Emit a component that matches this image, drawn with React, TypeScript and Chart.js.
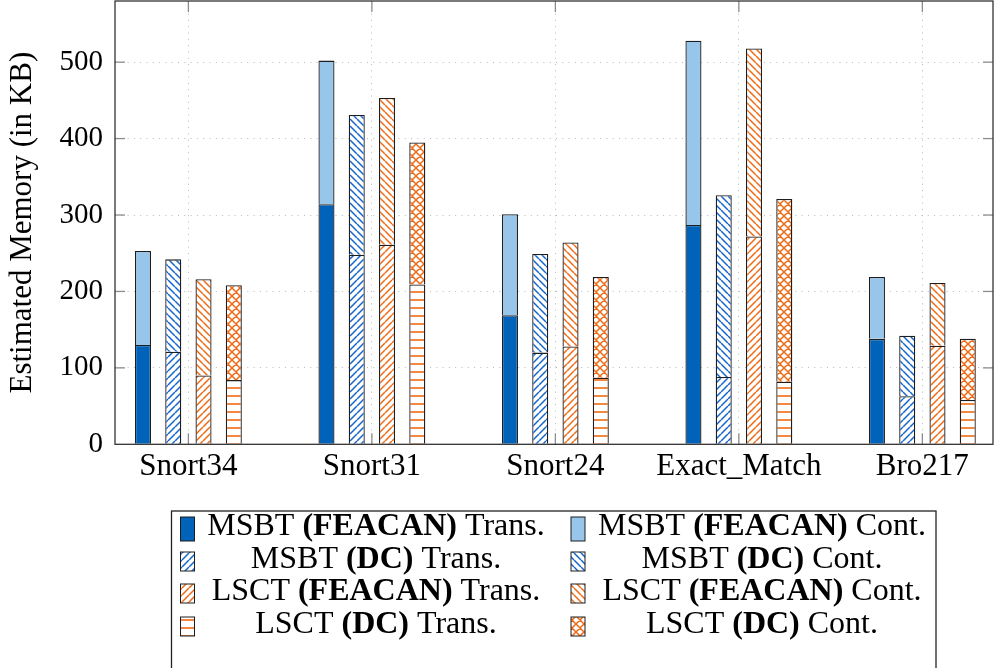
import React, { useEffect, useRef } from 'react';
import { Chart, registerables } from 'chart.js';

Chart.register(...registerables);

// ---- data ----
const categories = ['Snort34', 'Snort31', 'Snort24', 'Exact_Match', 'Bro217'];
const msbtFeacanTrans = [130, 314, 169, 287, 138];
const msbtFeacanCont = [123, 188, 132, 241, 81];
const msbtDcTrans = [121, 248, 120, 88, 63];
const msbtDcCont = [121, 183, 129, 238, 79];
const lsctFeacanTrans = [90, 261, 128, 272, 129];
const lsctFeacanCont = [126, 192, 136, 246, 82];
const lsctDcTrans = [84, 209, 87, 82, 58];
const lsctDcCont = [124, 186, 132, 239, 80];
const yTickValues = [0, 100, 200, 300, 400, 500];
const yMax = 580;

const W = 995;
const H = 668;
const SERIF = '"Liberation Serif", "Times New Roman", serif';

type Seg = [string, boolean];

function makePattern(kind: string, color: string, s: number, lw: number): CanvasPattern | string {
  const c = document.createElement('canvas');
  c.width = s;
  c.height = s;
  const g = c.getContext('2d');
  if (!g) return color;
  g.fillStyle = '#ffffff';
  g.fillRect(0, 0, s, s);
  g.strokeStyle = color;
  g.lineWidth = lw;
  g.beginPath();
  const ne = () => {
    for (const x0 of [-s, 0, s]) {
      g.moveTo(x0, s);
      g.lineTo(x0 + s, 0);
    }
  };
  const nw = () => {
    for (const x0 of [-s, 0, s]) {
      g.moveTo(x0, 0);
      g.lineTo(x0 + s, s);
    }
  };
  if (kind === 'ne') ne();
  if (kind === 'nw') nw();
  if (kind === 'x') {
    ne();
    nw();
  }
  if (kind === 'h') {
    g.moveTo(0, s / 2);
    g.lineTo(s, s / 2);
  }
  g.stroke();
  const p = g.createPattern(c, 'repeat');
  return p || color;
}

export default function App() {
  const ref = useRef<HTMLCanvasElement>(null);

  useEffect(() => {
    const canvas = ref.current;
    if (!canvas) return;
    const blue = '#1466cc';
    const orange = '#f06a14';
    const edge = '#1e1e1e';

    const series = [
      { data: msbtFeacanTrans, stack: 'mf', bg: '#0062B8' as any, parts: [['MSBT ', false], ['(FEACAN)', true], [' Trans.', false]] as Seg[] },
      { data: msbtFeacanCont, stack: 'mf', bg: '#98C5EA' as any, parts: [['MSBT ', false], ['(FEACAN)', true], [' Cont.', false]] as Seg[] },
      { data: msbtDcTrans, stack: 'md', bg: makePattern('ne', blue, 7, 1.5), parts: [['MSBT ', false], ['(DC)', true], [' Trans.', false]] as Seg[] },
      { data: msbtDcCont, stack: 'md', bg: makePattern('nw', blue, 7, 1.5), parts: [['MSBT ', false], ['(DC)', true], [' Cont.', false]] as Seg[] },
      { data: lsctFeacanTrans, stack: 'lf', bg: makePattern('ne', orange, 7, 1.5), parts: [['LSCT ', false], ['(FEACAN)', true], [' Trans.', false]] as Seg[] },
      { data: lsctFeacanCont, stack: 'lf', bg: makePattern('nw', orange, 7, 1.5), parts: [['LSCT ', false], ['(FEACAN)', true], [' Cont.', false]] as Seg[] },
      { data: lsctDcTrans, stack: 'ld', bg: makePattern('h', orange, 8, 1.6), parts: [['LSCT ', false], ['(DC)', true], [' Trans.', false]] as Seg[] },
      { data: lsctDcCont, stack: 'ld', bg: makePattern('x', orange, 8, 1.5), parts: [['LSCT ', false], ['(DC)', true], [' Cont.', false]] as Seg[] },
    ];

    const frame = {
      id: 'frameAndLegend',
      afterDraw(chart: any) {
        const { ctx, chartArea: a, scales } = chart;
        ctx.save();
        const line = (x1: number, y1: number, x2: number, y2: number) => {
          ctx.beginPath();
          ctx.moveTo(x1, y1);
          ctx.lineTo(x2, y2);
          ctx.stroke();
        };
        // inward tick marks
        ctx.strokeStyle = '#8c8c8c';
        ctx.lineWidth = 1.3;
        yTickValues.forEach((v) => {
          if (v === 0) return;
          const y = scales.y.getPixelForValue(v);
          line(a.left, y, a.left + 10, y);
          line(a.right - 10, y, a.right, y);
        });
        categories.forEach((_, i) => {
          const x = scales.x.getPixelForValue(i);
          line(x, a.bottom, x, a.bottom - 11);
          line(x, a.top, x, a.top + 11);
        });
        // axis box
        ctx.strokeStyle = '#333333';
        ctx.lineWidth = 1.3;
        ctx.strokeRect(a.left, a.top, a.right - a.left, a.bottom - a.top);

        // legend
        const bx = 171.5, by = 511, bw = 764.5, bh = 162;
        ctx.strokeStyle = '#222222';
        ctx.lineWidth = 1.3;
        ctx.strokeRect(bx, by, bw, bh);
        const swX = [180.5, 571];
        const txtC = [376, 762];
        const baselines = [535, 568, 600, 633];
        const normal = `32px ${SERIF}`;
        const bold = `bold 32px ${SERIF}`;
        ctx.textBaseline = 'alphabetic';
        ctx.textAlign = 'left';
        series.forEach((s, idx) => {
          const row = Math.floor(idx / 2);
          const col = idx % 2;
          const base = baselines[row];
          const top = row === 0 ? base - 18 : base - 16;
          const hgt = row === 0 ? 24 : 19;
          ctx.fillStyle = s.bg;
          ctx.fillRect(swX[col], top, 14, hgt);
          ctx.strokeStyle = edge;
          ctx.lineWidth = 1;
          ctx.strokeRect(swX[col], top, 14, hgt);
          let total = 0;
          s.parts.forEach(([t, b]) => {
            ctx.font = b ? bold : normal;
            total += ctx.measureText(t).width;
          });
          let x = txtC[col] - total / 2;
          ctx.fillStyle = '#000';
          s.parts.forEach(([t, b]) => {
            ctx.font = b ? bold : normal;
            ctx.fillText(t, x, base);
            x += ctx.measureText(t).width;
          });
        });
        ctx.restore();
      },
    };

    const chart = new Chart(canvas, {
      type: 'bar',
      data: {
        datasets: series.map((s) => ({
          label: s.parts.map((p) => p[0]).join(''),
          data: s.data.map((v, k) => ({ x: k, y: v })),
          stack: s.stack,
          backgroundColor: s.bg,
          borderColor: edge,
          borderWidth: 1.3,
          categoryPercentage: 0.66,
          barPercentage: 0.53,
        })),
      },
      options: {
        responsive: false,
        animation: false,
        devicePixelRatio: 1,
        layout: { padding: { top: 1, right: 2, left: 0, bottom: 0 } },
        plugins: {
          legend: { display: false },
          tooltip: { enabled: false },
        },
        scales: {
          x: {
            type: 'linear',
            offset: false,
            min: -0.4,
            max: 4.385,
            bounds: 'data',
            afterBuildTicks: (scale: any) => {
              scale.ticks = categories.map((_, i) => ({ value: i }));
            },
            afterFit: (scale: any) => {
              scale.height = 223.7;
              scale.paddingLeft = 0;
              scale.paddingRight = 0;
            },
            ticks: {
              callback: (v: any) => categories[Math.round(Number(v))] ?? '',
              font: { family: SERIF, size: 31 },
              color: '#000',
              padding: 4,
              maxRotation: 0,
              autoSkip: false,
            },
            grid: { color: '#b8b8b8', lineWidth: 1, drawTicks: false, offset: false },
            border: { display: false, dash: [1, 5.3] },
          },
          y: {
            type: 'linear',
            stacked: true,
            min: 0,
            max: yMax,
            afterBuildTicks: (scale: any) => {
              scale.ticks = yTickValues.map((v) => ({ value: v }));
            },
            afterFit: (scale: any) => {
              scale.width = 115;
              scale.paddingTop = 0;
              scale.paddingBottom = 0;
            },
            ticks: {
              font: { family: SERIF, size: 29 },
              color: '#000',
              padding: 12,
            },
            grid: { color: '#b8b8b8', lineWidth: 1, drawTicks: false },
            border: { display: false, dash: [1, 5.3] },
            title: {
              display: true,
              text: 'Estimated Memory (in KB)',
              font: { family: SERIF, size: 31 },
              color: '#000',
              padding: { top: 4, bottom: 0 },
            },
          },
        },
      },
      plugins: [frame],
    } as any);

    return () => chart.destroy();
  }, []);

  return (
    <div style={{ position: 'absolute', left: 0, top: 0, width: W, height: H, background: '#fff' }}>
      <canvas ref={ref} width={W} height={H} style={{ width: W, height: H, display: 'block' }} />
    </div>
  );
}
